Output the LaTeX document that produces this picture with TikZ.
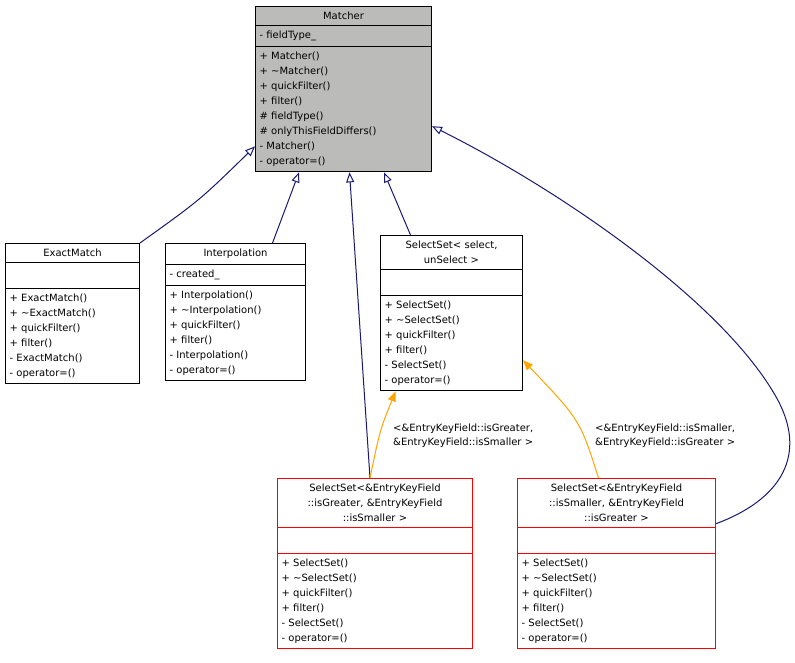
\documentclass[tikz,border=0pt]{standalone}
\usepackage{fontspec}
\setmainfont{DejaVu Sans}
\usetikzlibrary{arrows.meta, positioning, shapes.multipart}
\definecolor{umlnavy}{HTML}{191970}
\definecolor{umlorange}{HTML}{FFA500}
\definecolor{umlgray}{HTML}{BBBCB9}
\definecolor{umlred}{HTML}{FF0000}
\newcommand\clsline[1]{\makebox[\hsize][c]{#1}}
\tikzset{
  cls/.style={draw=black, line width=1pt, rectangle split, rectangle split parts=3,
    align=left, anchor=north west,
    inner xsep=4pt, inner ysep=5pt, font=\fontsize{10}{15}\selectfont},
  inh/.style={umlnavy, line width=1pt, {Triangle[open, length=10pt, width=8pt]}-},
  tmpl/.style={umlorange, line width=1pt, {Triangle[fill=umlorange, length=10pt, width=8pt]}-},
  lbl/.style={align=left, anchor=north west, inner sep=0pt, font=\fontsize{10}{14}\selectfont}
}
\begin{document}
\begin{tikzpicture}[x=1pt, y=-1pt]
\useasboundingbox[fill=white] (0,0) rectangle (795,663);
% classes
\node[cls, fill=umlgray, text width=168pt] (matcher) at (255,6)
  {\clsline{Matcher}\nodepart{two}- fieldType\_\nodepart{three}+ Matcher()\\+ \textasciitilde Matcher()\\+ quickFilter()\\+ filter()\\\# fieldType()\\\# onlyThisFieldDiffers()\\- Matcher()\\- operator=()};
\node[cls, fill=white, text width=126pt] (exact) at (5,243)
  {\clsline{ExactMatch}\nodepart{two}\strut\nodepart{three}+ ExactMatch()\\+ \textasciitilde ExactMatch()\\+ quickFilter()\\+ filter()\\- ExactMatch()\\- operator=()};
\node[cls, fill=white, text width=132pt] (interp) at (165,243)
  {\clsline{Interpolation}\nodepart{two}- created\_\nodepart{three}+ Interpolation()\\+ \textasciitilde Interpolation()\\+ quickFilter()\\+ filter()\\- Interpolation()\\- operator=()};
\node[cls, fill=white, text width=134pt] (sel) at (380,235)
  {\clsline{SelectSet< select,}\\\clsline{unSelect >}\nodepart{two}\strut\nodepart{three}+ SelectSet()\\+ \textasciitilde SelectSet()\\+ quickFilter()\\+ filter()\\- SelectSet()\\- operator=()};
\node[cls, draw=umlred, fill=white, text width=187pt] (gtsm) at (277,478)
  {\clsline{SelectSet<\&EntryKeyField}\\\clsline{::isGreater, \&EntryKeyField}\\\clsline{::isSmaller >}\nodepart{two}\strut\nodepart{three}+ SelectSet()\\+ \textasciitilde SelectSet()\\+ quickFilter()\\+ filter()\\- SelectSet()\\- operator=()};
\node[cls, draw=umlred, fill=white, text width=190pt] (smgt) at (517,478)
  {\clsline{SelectSet<\&EntryKeyField}\\\clsline{::isSmaller, \&EntryKeyField}\\\clsline{::isGreater >}\nodepart{two}\strut\nodepart{three}+ SelectSet()\\+ \textasciitilde SelectSet()\\+ quickFilter()\\+ filter()\\- SelectSet()\\- operator=()};
% inheritance
\draw[inh] ([yshift=26]matcher.south west) .. controls (200,200) .. (exact.north east);
\draw[inh] ([xshift=44]matcher.south west) -- ([xshift=37]interp.north);
\draw[inh] ([xshift=-48]matcher.south east) -- ([xshift=-41]sel.north);
\draw[inh] ([xshift=6]matcher.south) -- ([xshift=-5]gtsm.north);
\draw[inh] ([yshift=-37]matcher.east) .. controls (560,190) and (720,300) .. (775,395)
  .. controls (810,455) and (780,500) .. ([yshift=40]smgt.east);
% template instances
\draw[tmpl] ([xshift=-56]sel.south) .. controls (380,430) .. ([xshift=-5]gtsm.north);
\draw[tmpl] ([yshift=-47]sel.east) .. controls (580,420) .. ([xshift=-18]smgt.north);
\node[lbl] (lgtsm) at (393,424) {<\&EntryKeyField::isGreater,\\\&EntryKeyField::isSmaller >};
\node[lbl] (lsmgt) at (595,424) {<\&EntryKeyField::isSmaller,\\\&EntryKeyField::isGreater >};
\end{tikzpicture}
\end{document}
